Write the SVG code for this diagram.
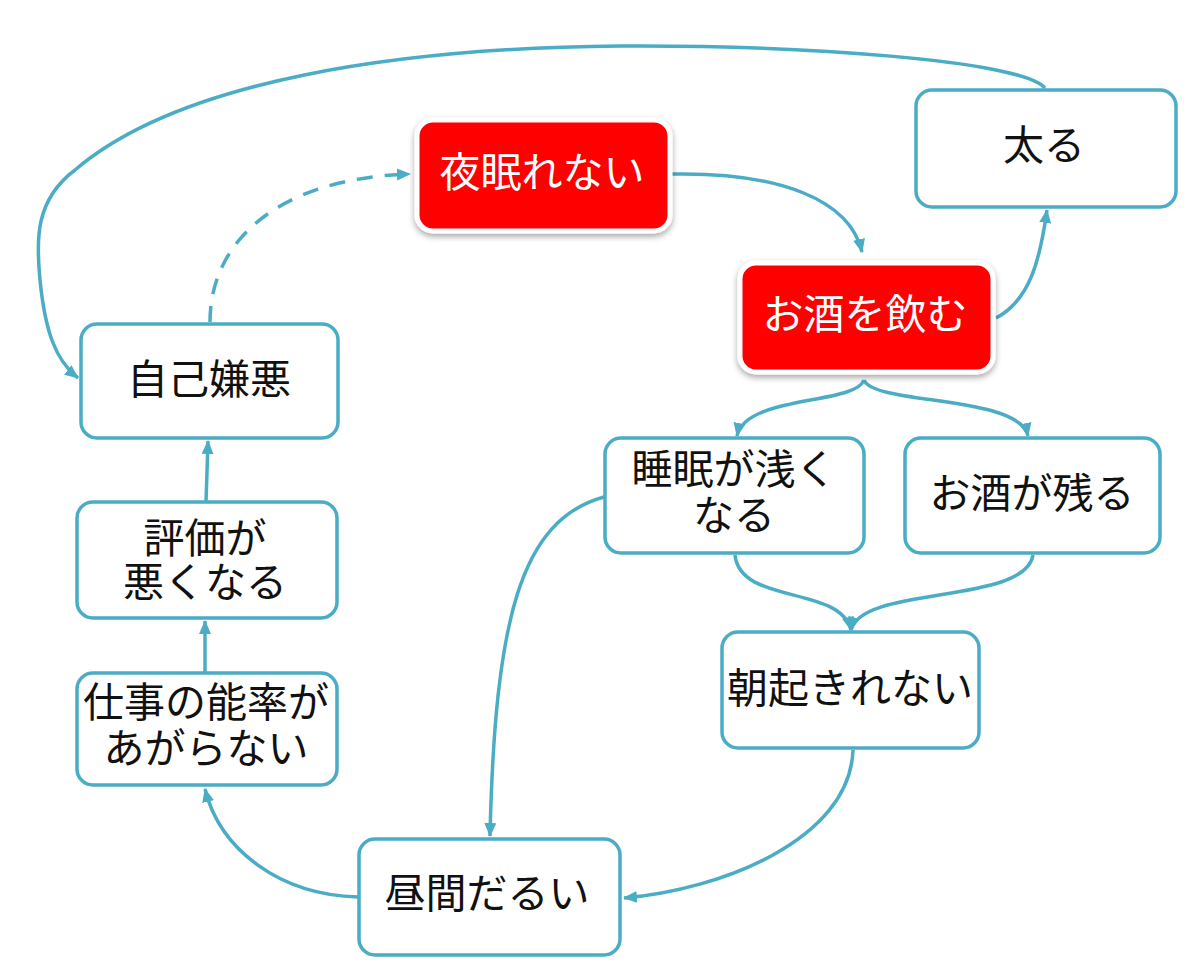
<svg xmlns="http://www.w3.org/2000/svg" width="1200" height="975" viewBox="0 0 1200 975">
  <defs>
    <style>
      .node rect { fill: #ffffff; stroke: #4BACC6; stroke-width: 3.5; }
      .hot rect { fill: #FF0000; stroke: #ffffff; stroke-width: 5; filter: url(#shadow); }
      text { font-family: "Noto Sans CJK JP", "Noto Sans", sans-serif; font-size: 41px; text-anchor: middle; fill: #111111; }
      .hot text { fill: #ffffff; }
      .edge { fill: none; stroke: #4BACC6; stroke-width: 3.5; marker-end: url(#arrow); }
      .dash { stroke-dasharray: 16 12; }
    </style>
    <marker id="arrow" markerUnits="userSpaceOnUse" markerWidth="16" markerHeight="14" refX="13" refY="7" orient="auto">
      <path d="M0,1 L14,7 L0,13 Z" fill="#4BACC6"/>
    </marker>
    <filter id="shadow" x="-10%" y="-10%" width="120%" height="130%">
      <feDropShadow dx="0" dy="3" stdDeviation="3" flood-color="#000000" flood-opacity="0.35"/>
    </filter>
  </defs>

  <g id="connectors">
    <path class="edge" d="M 672,174 C 780,172 850,200 862,252"/>
    <path class="edge" d="M 996,318 C 1030,300 1040,260 1047,210"/>
    <path class="edge" d="M 1045,88 C 1020,60 800,45 620,46 C 400,48 180,80 75,170 C 35,200 36,240 40,280 C 45,330 55,360 78,378"/>
    <path class="edge dash" d="M 210,322 C 210,240 280,178 410,174"/>
    <path class="edge" d="M 864,380 C 855,405 745,395 737,436"/>
    <path class="edge" d="M 864,380 C 873,405 1020,395 1028,436"/>
    <path class="edge" d="M 735,555 C 740,605 840,585 851,630"/>
    <path class="edge" d="M 1033,555 C 1025,605 862,585 851,630"/>
    <path class="edge" d="M 604,497 C 520,520 495,620 490,836"/>
    <path class="edge" d="M 853,750 C 850,840 720,890 624,898"/>
    <path class="edge" d="M 358,897 C 280,895 220,850 205,789"/>
    <path class="edge" d="M 205,672 L 205,621"/>
    <path class="edge" d="M 206,502 L 208,441"/>
  </g>

  <g id="node-yoru" class="hot">
    <rect x="417" y="120" width="253" height="111" rx="16"/>
    <text x="542" y="187">夜眠れない</text>
  </g>
  <g id="node-osake" class="hot">
    <rect x="740" y="263" width="253" height="109" rx="16"/>
    <text x="865" y="329">お酒を飲む</text>
  </g>
  <g id="node-futoru" class="node">
    <rect x="916" y="90" width="260" height="117" rx="16"/>
    <text x="1044" y="160">太る</text>
  </g>
  <g id="node-jiko" class="node">
    <rect x="81" y="324" width="257" height="114" rx="16"/>
    <text x="209" y="394">自己嫌悪</text>
  </g>
  <g id="node-hyoka" class="node">
    <rect x="77" y="502" width="260" height="116" rx="16"/>
    <text x="205" y="553">評価が<tspan x="205" dy="44">悪くなる</tspan></text>
  </g>
  <g id="node-shigoto" class="node">
    <rect x="77" y="673" width="260" height="112" rx="16"/>
    <text x="206" y="717">仕事の能率が<tspan x="206" dy="46">あがらない</tspan></text>
  </g>
  <g id="node-hiruma" class="node">
    <rect x="359" y="839" width="261" height="116" rx="16"/>
    <text x="487" y="908">昼間だるい</text>
  </g>
  <g id="node-suimin" class="node">
    <rect x="605" y="438" width="259" height="115" rx="16"/>
    <text x="734" y="484">睡眠が浅く<tspan x="734" dy="46">なる</tspan></text>
  </g>
  <g id="node-nokoru" class="node">
    <rect x="905" y="438" width="255" height="115" rx="16"/>
    <text x="1032" y="508">お酒が残る</text>
  </g>
  <g id="node-asa" class="node">
    <rect x="722" y="632" width="257" height="116" rx="16"/>
    <text x="850" y="703">朝起きれない</text>
  </g>
</svg>
